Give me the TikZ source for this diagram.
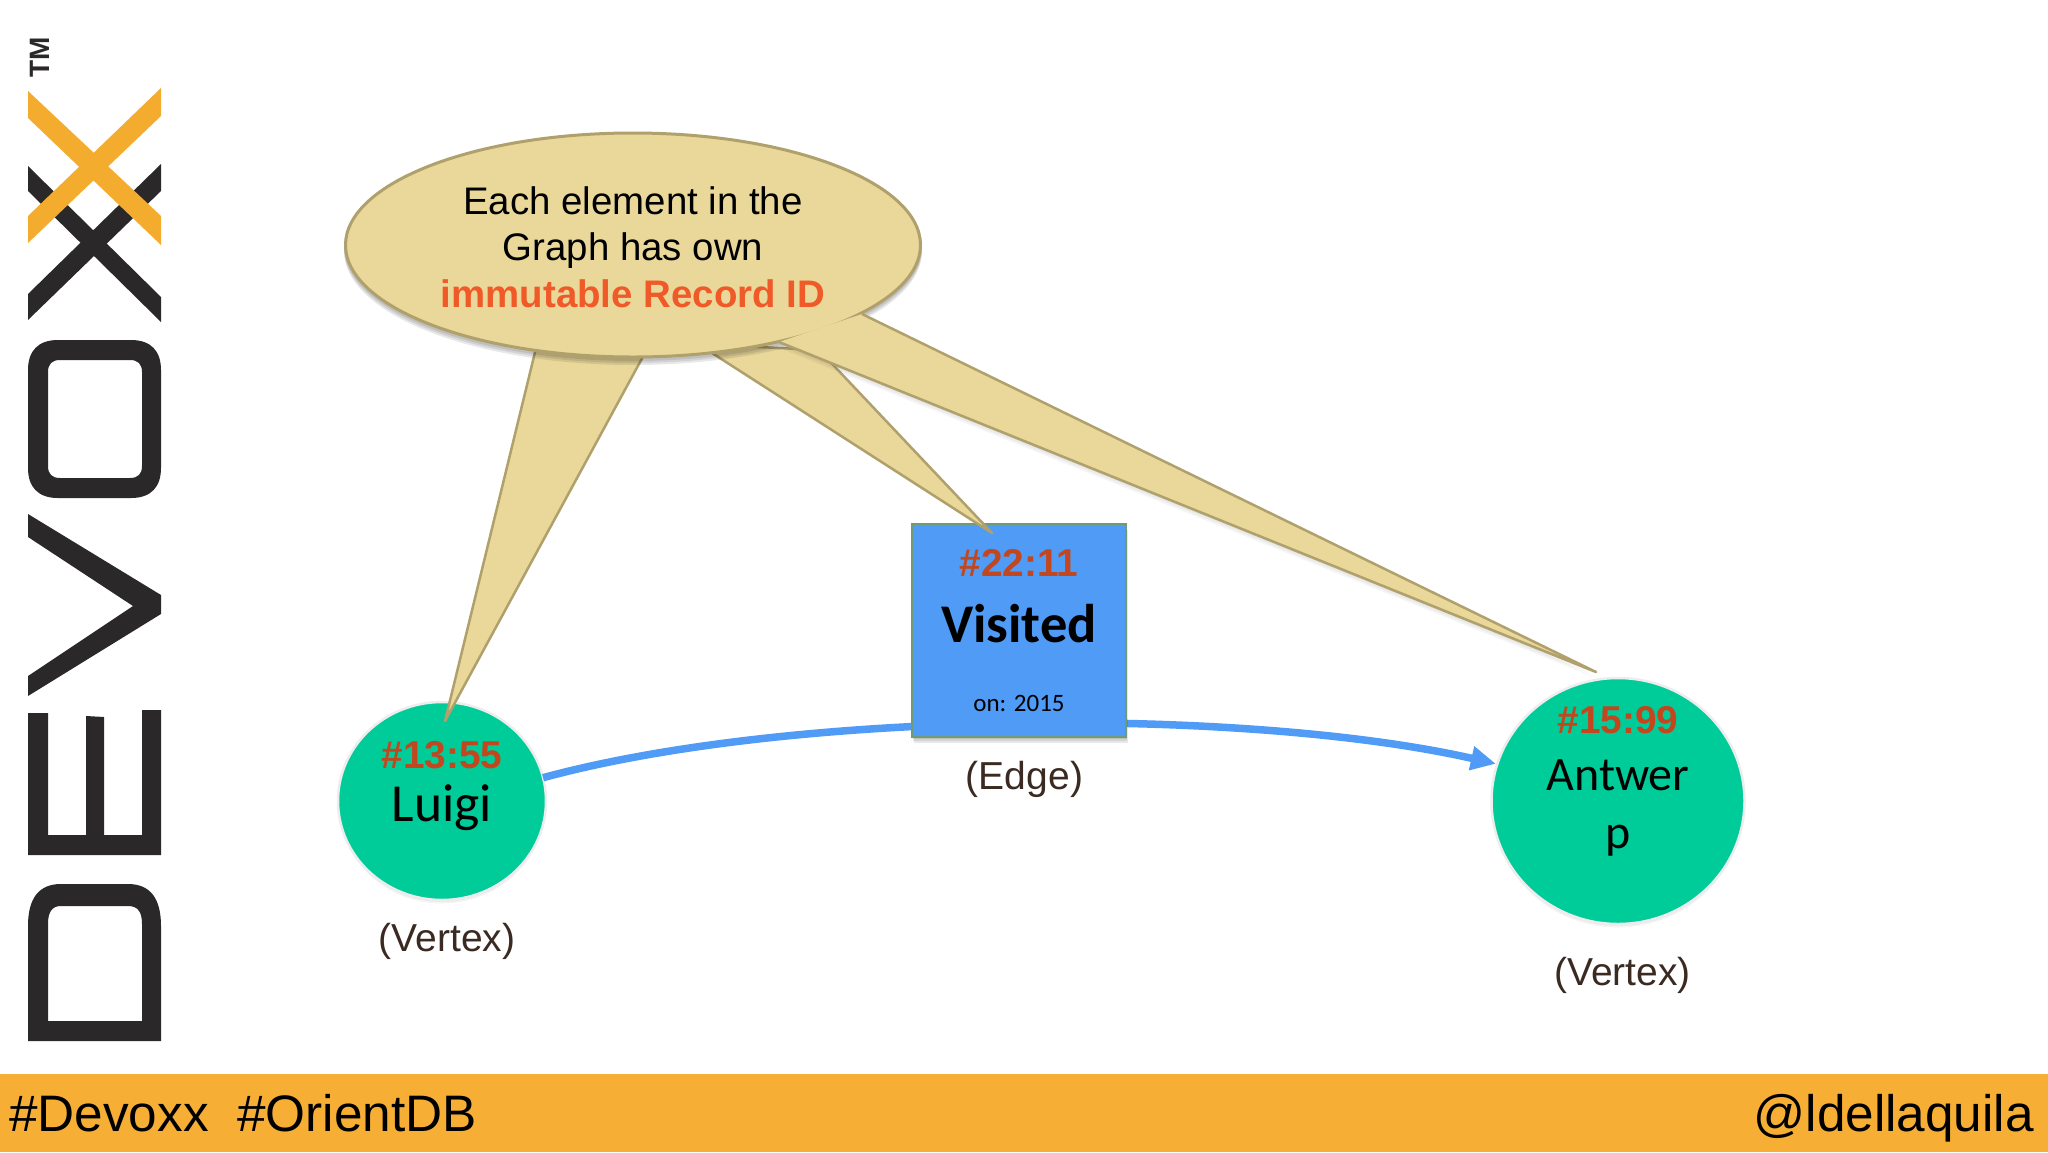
\documentclass[tikz,border=0pt]{standalone}
\usepackage{fontspec}
\setmainfont{Liberation Sans}
\newfontfamily\carlito{Carlito}
\usetikzlibrary{shapes.geometric,arrows.meta}
\definecolor{logoDark}{HTML}{2B282A}
\definecolor{logoGold}{HTML}{F4AC2F}
\definecolor{bandGold}{HTML}{F6AE35}
\definecolor{bubbleFill}{HTML}{E9D89A}
\definecolor{bubbleEdge}{HTML}{AFA06C}
\definecolor{idRed}{HTML}{C2471F}
\definecolor{accentRed}{HTML}{F05A28}
\definecolor{vertexGreen}{HTML}{00CC99}
\definecolor{edgeBlue}{HTML}{4F9BF5}
\definecolor{rectEdge}{HTML}{6E9C78}
\definecolor{captionBrown}{HTML}{3A2A22}
\newcommand{\ridtext}[1]{{\fontsize{38.8}{38.8}\selectfont\rmfamily\bfseries\color{idRed}#1}}
\tikzset{
  vertexnode/.style={ellipse,inner xsep=0pt,inner ysep=-15pt,outer sep=0pt,fill=vertexGreen,draw=white!93!black,line width=2.5pt,align=center,text=black},
  edgebox/.style={rectangle,inner sep=0pt,outer sep=0pt,fill=edgeBlue,draw=rectEdge,line width=1.5pt,align=center,text=black,minimum width=214pt,minimum height=213pt},
  bubblenode/.style={ellipse,inner sep=0pt,outer sep=0pt,fill=bubbleFill,draw=bubbleEdge,line width=3pt,minimum width=575pt,minimum height=224pt,align=center,font=\fontsize{38.4}{46.5}\selectfont},
  bubbletail/.style={fill=bubbleFill,draw=bubbleEdge,line width=2.5pt,line join=round},
  softshade/.style={fill=black,fill opacity=.09,draw=none},
  captionnode/.style={anchor=base,text=captionBrown,inner sep=0pt,font=\fontsize{39}{39}\selectfont},
  bandtext/.style={anchor=base,text=black,inner sep=0pt,font=\fontsize{51.3}{51.3}\selectfont},
  edgeline/.style={draw=edgeBlue,line width=7.5pt},
  logoshape/.style={fill=logoDark,draw=none,even odd rule},
  logocross/.style={fill=logoGold,draw=none}
}
\begin{document}
\begin{tikzpicture}[x=1pt,y=-1pt]
\useasboundingbox (0,0) rectangle (2048,1152);
\fill[white] (0,0) rectangle (2048,1152);
% footer band
\fill[bandGold] (0,1074) rectangle (2048,1152);
\node[bandtext,anchor=base west] (tagsleft) at (9,1131) {\#Devoxx\hspace{.278em} \#OrientDB};
\node[bandtext,anchor=base east] (handle) at (2034,1131) {@ldellaquila};
% logo
\fill[logoshape] (28,1041) -- (161,1041) -- (161,926) .. controls (161,898) and (150,884) .. (128,884) -- (61,884) .. controls (39,884) and (28,898) .. (28,926) -- cycle
  (48,1021) -- (142,1021) -- (142,924) .. controls (142,912) and (138,906) .. (128,906) -- (61,906) .. controls (52,906) and (48,912) .. (48,924) -- cycle;
\fill[logoshape] (28,855) -- (161,855) -- (161,710) -- (142,710) -- (142,835) -- (104,835) -- (104,717) -- (86,716) -- (86,835) -- (48,835) -- (48,713) -- (28,713) -- cycle;
\fill[logoshape] (28,514) -- (161,595) -- (161,614) -- (28,696) -- (28,676) -- (133,606) -- (28,537) -- cycle;
\fill[logoshape] (58,340) -- (131,340) .. controls (151,340) and (161,351) .. (161,370) -- (161,468) .. controls (161,487) and (151,498) .. (131,498) -- (58,498) .. controls (38,498) and (28,487) .. (28,468) -- (28,370) .. controls (28,351) and (38,340) .. (58,340) -- cycle
  (60,360) .. controls (52,360) and (48,364) .. (48,372) -- (48,466) .. controls (48,474) and (52,478) .. (60,478) -- (130,478) .. controls (138,478) and (142,474) .. (142,466) -- (142,372) .. controls (142,364) and (138,360) .. (130,360) -- cycle;
\fill[logoshape] (28,166) -- (161,297) -- (161,322) -- (28,191) -- cycle;
\fill[logoshape] (161,164) -- (28,294) -- (28,320) -- (161,191) -- cycle;
\fill[logocross] (28,91) -- (161,216) -- (161,245) -- (28,118) -- cycle;
\fill[logocross] (161,88) -- (28,216) -- (28,243) -- (161,116) -- cycle;
\node[rotate=90,inner sep=0pt,text=logoDark,font=\fontsize{28}{28}\selectfont\bfseries] (tm) at (40,57.5) {TM};
% vertices and edge
\foreach \s in {1.5,3,4.5}{
  \fill[softshade,fill opacity=.04] (442,801+\s) ellipse [x radius=103,y radius=98];
  \fill[softshade,fill opacity=.04] (1618,801+\s) ellipse [x radius=125.5,y radius=122];
}
\node[vertexnode,minimum width=208pt,minimum height=198pt,text depth=40pt,font=\carlito\fontsize{53.5}{53}\selectfont] (luigi) at (442,801) {\ridtext{\#13:55}\\Luigi};
\node[vertexnode,minimum width=253pt,minimum height=246pt,text depth=48pt,font=\carlito\fontsize{48}{57.5}\selectfont] (antwerp) at (1618,801) {\ridtext{\#15:99}\\Antwer\\p};
\draw[edgeline,shorten >=1.5pt,-{Triangle[length=25pt,width=23pt]}] (luigi.13) .. controls (800,708) and (1250,708) .. (antwerp.163);
\foreach \s in {2,4,6}{
  \fill[softshade] (912+\s/3,524+\s) rectangle (1126+\s/3,737+\s);
}
\node[edgebox,font=\carlito\fontsize{25}{25}\selectfont] (visited) at (1019,630.5) {\ridtext{\#22:11}\\[27pt]{\fontsize{54.5}{54.5}\selectfont\bfseries Visited}\\[44pt]on: 2015};
% captions
\node[captionnode] (cap1) at (447,951) {(Vertex)};
\node[captionnode] (cap2) at (1024.5,789) {(Edge)};
\node[captionnode] (cap3) at (1622.5,985) {(Vertex)};
% callout
\coordinate (tipluigi) at (445,721);
\coordinate (tipvisited) at (992,533);
\coordinate (tipantwerp) at (1596,672);
\filldraw[bubbletail] (538,340) -- (tipluigi) -- (652,340) -- cycle;
\filldraw[bubbletail] (698,344) -- (tipvisited) -- (819,350) -- cycle;
\foreach \s in {2,4,6}{
  \fill[softshade] (633,245+\s) ellipse [x radius=289,y radius=114];
  \fill[softshade,fill opacity=.04] (779,342+\s) -- (1596,672+\s) -- (862,314+\s) -- cycle;
}
\node[bubblenode] (bubble) at (633,245) {\rule{0pt}{32pt}Each element in the\\Graph has own\\{\bfseries\color{accentRed}immutable Record ID}};
\fill[bubbleFill] (779,342) -- (tipantwerp) -- (862,314) -- cycle;
\draw[bubbleEdge,line width=2.5pt,line join=round] (779,342) -- (tipantwerp) -- (862,314);
\end{tikzpicture}
\end{document}
